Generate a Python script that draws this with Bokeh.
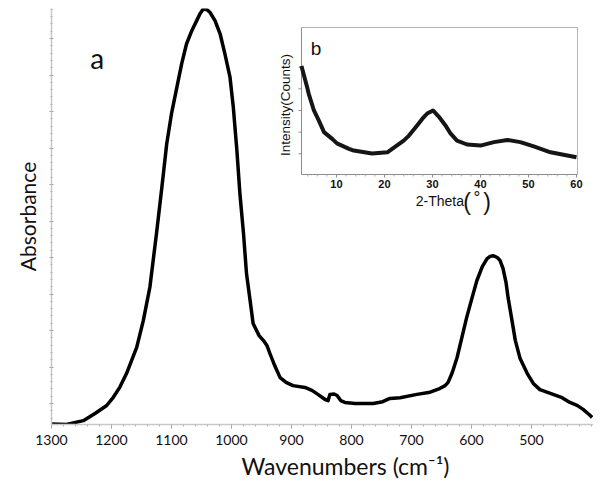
import math
from bokeh.plotting import figure
from bokeh.models import Range1d, FixedTicker, Label, Title
from bokeh.core.properties import value
from bokeh.embed import file_html
from bokeh.resources import INLINE

# ---- main FTIR spectrum (panel a) ----
wavenumber = [1300, 1275, 1247, 1227.5, 1208, 1197, 1186, 1175, 1158, 1147, 1136, 1125,
              1116, 1108, 1100, 1091, 1083, 1075, 1066, 1058, 1052.5, 1047, 1041, 1036,
              1027.5, 1019, 1011, 1002.5, 997, 991, 986, 980, 975, 969, 964, 954, 947,
              941, 936, 928, 919, 909, 897.5, 877.5, 866, 856, 844, 839, 836, 829, 824,
              818, 811, 794, 764, 748, 736, 719, 691, 669, 653, 644, 639, 632, 624, 616,
              608, 599, 591, 582, 574, 569, 564, 557, 552.5, 547.5, 542.5, 539, 532.5,
              527, 519, 507, 497, 486, 464, 449, 436, 424, 414, 404, 399]
absorbance = [0.044, 0.0425, 0.053, 0.0726, 0.0945, 0.117, 0.145, 0.182, 0.254, 0.327,
              0.419, 0.566, 0.693, 0.811, 0.894, 0.967, 1.031, 1.085, 1.122, 1.149, 1.168,
              1.181, 1.179, 1.172, 1.149, 1.113, 1.058, 0.994, 0.912, 0.793, 0.675, 0.566,
              0.456, 0.382, 0.319, 0.286, 0.273, 0.259, 0.237, 0.204, 0.171, 0.158, 0.149,
              0.144, 0.136, 0.125, 0.111, 0.108, 0.125, 0.126, 0.122, 0.108, 0.103, 0.100,
              0.100, 0.105, 0.114, 0.116, 0.125, 0.131, 0.141, 0.149, 0.158, 0.185, 0.226,
              0.281, 0.336, 0.390, 0.437, 0.475, 0.497, 0.503, 0.505, 0.500, 0.492, 0.470,
              0.432, 0.390, 0.327, 0.273, 0.223, 0.182, 0.155, 0.138, 0.125, 0.116, 0.103,
              0.095, 0.084, 0.070, 0.062]
x_ticks = [1300, 1200, 1100, 1000, 900, 800, 700, 600, 500]
x_tick_labels = ["1300", "1200", "1100", "1000", "900", "800", "700", "600", "500"]
y_ticks = [0.1, 0.2, 0.3, 0.4, 0.5, 0.6, 0.7, 0.8, 0.9, 1.0, 1.1]

# ---- XRD inset (panel b) ----
two_theta = [2.7, 3.9, 4.2, 5.3, 6.3, 7.4, 9.1, 10.1, 12.6, 13.6, 17.4, 20.6, 21.6, 24.0,
             25.1, 26.8, 27.9, 28.9, 30.1, 31.3, 32.7, 33.75, 35.1, 37.2, 40.0, 42.8,
             45.6, 48.3, 51.1, 54.6, 58.1, 60.0]
intensity = [5.05, 4.06, 3.78, 3.0, 2.54, 2.0, 1.69, 1.48, 1.23, 1.15, 1.01, 1.07, 1.23,
             1.61, 1.84, 2.31, 2.62, 2.86, 3.0, 2.72, 2.31, 1.94, 1.61, 1.43, 1.38, 1.54,
             1.64, 1.54, 1.34, 1.07, 0.92, 0.84]
inset_x_ticks = [10, 20, 30, 40, 50, 60]
inset_x_tick_labels = ["10", "20", "30", "40", "50", "60"]
inset_y_ticks = [1, 2, 3, 4, 5]

FONT = "Lato"
IFONT = "Liberation Sans"

# layout (picture pixels)
FRAME = dict(left=51, right=593, top=8, bottom=424)
INSET = dict(left=301, right=577, top=27, bottom=174)
IX = (2.71, 60.21)      # inset x limits (2-theta)
IY = (0.045, 6.83)      # inset y limits (intensity)

p = figure(frame_width=FRAME["right"] - FRAME["left"], frame_height=FRAME["bottom"] - FRAME["top"],
           x_range=Range1d(1300, 396.67), y_range=Range1d(0.0425, 1.1822),
           output_backend="svg", toolbar_location=None,
           min_border_left=FRAME["left"], min_border_right=0, min_border_top=FRAME["top"],
           min_border_bottom=58)
p.outline_line_color = None
p.xgrid.visible = False
p.ygrid.visible = False

x_minor = [x_ticks[0] - 20 * k for k in range(46)]
p.xaxis.ticker = FixedTicker(ticks=x_ticks, minor_ticks=x_minor)
p.xaxis.major_label_overrides = dict(zip(x_ticks, x_tick_labels))
p.xaxis.axis_line_color = "#c8c8c8"
p.xaxis.axis_line_width = 1.5
p.xaxis.major_tick_line_color = "#9a9a9a"
p.xaxis.minor_tick_line_color = "#b5b5b5"
p.xaxis.major_tick_in = 0
p.xaxis.major_tick_out = 4
p.xaxis.minor_tick_in = 0
p.xaxis.minor_tick_out = 2
p.xaxis.major_label_text_font = FONT
p.xaxis.major_label_text_font_size = "14px"
p.xaxis.major_label_text_color = "#111111"
p.xaxis.major_label_standoff = 6

y_minor = [round(0.04 + 0.02 * k, 3) for k in range(58)]
p.yaxis.ticker = FixedTicker(ticks=y_ticks, minor_ticks=y_minor)
p.yaxis.major_label_overrides = {t: "" for t in y_ticks}
p.yaxis.axis_line_color = "#c8c8c8"
p.yaxis.axis_line_width = 1.5
p.yaxis.major_tick_line_color = "#9a9a9a"
p.yaxis.minor_tick_line_color = "#b5b5b5"
p.yaxis.major_tick_in = 2
p.yaxis.major_tick_out = 2
p.yaxis.minor_tick_in = 1
p.yaxis.minor_tick_out = 1
p.yaxis.major_label_standoff = 0
p.yaxis.axis_label = "Absorbance"
p.yaxis.axis_label_text_font = FONT
p.yaxis.axis_label_text_font_size = "21px"
p.yaxis.axis_label_text_font_style = "normal"
p.yaxis.axis_label_text_color = "#111111"
p.yaxis.axis_label_standoff = 10

p.add_layout(Title(text="Wavenumbers (cm\u207b\u00b9)", align="left", offset=190,
                   text_font=FONT, text_font_size="23px", text_font_style="normal",
                   text_color="#111111", standoff=4), "below")

p.line(wavenumber, absorbance, line_width=3.5, color="black", line_join="round")
p.add_layout(Label(x=1224, y=1.046, text="a", text_font=FONT, text_font_size="28px",
                   text_align="center", text_baseline="alphabetic", text_color="#111111"))

# ---- inset drawn with its own ranges mapped onto the inset box ----
dx = (IX[1] - IX[0]) / (INSET["right"] - INSET["left"])   # units per px
dy = (IY[1] - IY[0]) / (INSET["bottom"] - INSET["top"])
p.extra_x_ranges = {"ix": Range1d(IX[0] - (INSET["left"] - FRAME["left"]) * dx,
                                  IX[1] + (FRAME["right"] - INSET["right"]) * dx)}
p.extra_y_ranges = {"iy": Range1d(IY[0] - (FRAME["bottom"] - INSET["bottom"]) * dy,
                                  IY[1] + (INSET["top"] - FRAME["top"]) * dy)}
R = dict(x_range_name="ix", y_range_name="iy")

def px_x(px):  # picture x -> inset data x
    return IX[0] + (px - INSET["left"]) * dx

def px_y(py):  # picture y -> inset data y
    return IY[0] + (INSET["bottom"] - py) * dy

p.quad(left=[IX[0]], right=[IX[1]], bottom=[IY[0]], top=[IY[1]], fill_color="white",
       line_color=None, **R)
# frame: light top/right, darker axes
p.segment(x0=[IX[0], IX[1]], y0=[IY[1], IY[0]], x1=[IX[1], IX[1]], y1=[IY[1], IY[1]],
          line_color="#b4b4b4", line_width=1, **R)
p.segment(x0=[IX[0], IX[0]], y0=[IY[0], IY[0]], x1=[IX[1], IX[0]], y1=[IY[0], IY[1]],
          line_color="#8c8c8c", line_width=1, **R)
# x ticks
inset_minor = [m for m in range(4, 61, 2) if m not in inset_x_ticks]
p.segment(x0=inset_x_ticks, y0=[IY[0]] * len(inset_x_ticks), x1=inset_x_ticks,
          y1=[IY[0] - 3 * dy] * len(inset_x_ticks), line_color="#8c8c8c", **R)
p.segment(x0=inset_minor, y0=[IY[0]] * len(inset_minor), x1=inset_minor,
          y1=[IY[0] - 2 * dy] * len(inset_minor), line_color="#a8a8a8", **R)
# y ticks
p.segment(x0=[IX[0]] * len(inset_y_ticks), y0=inset_y_ticks,
          x1=[IX[0] - 3 * dx] * len(inset_y_ticks), y1=inset_y_ticks, line_color="#8c8c8c", **R)
# tick labels
p.text(x=inset_x_ticks, y=[px_y(183)] * len(inset_x_ticks), text=inset_x_tick_labels,
       text_font=value(IFONT), text_font_style="bold", text_font_size="11px",
       text_align="center", text_baseline="middle", text_color="#111111", **R)
# axis labels
p.text(x=[px_x(463.5)], y=[px_y(200)], text=["2-Theta"], text_font=value(IFONT),
       text_font_size="14px", text_align="right", text_baseline="middle",
       text_color="#111111", **R)
p.text(x=[px_x(466.5), px_x(486.5)], y=[px_y(201.5), px_y(201.5)], text=["(", ")"],
       text_font=value(IFONT), text_font_size="23px", text_align="center",
       text_baseline="middle", text_color="#111111", **R)
p.text(x=[px_x(476.5)], y=[px_y(197)], text=["\u00b0"], text_font=value(IFONT),
       text_font_size="17px", text_align="center", text_baseline="middle",
       text_color="#111111", **R)
p.text(x=[px_x(285)], y=[px_y(104.5)], text=["Intensity(Counts)"], text_font=value(IFONT),
       text_font_size="13.5px", text_align="center", text_baseline="middle",
       angle=math.pi / 2, text_color="#111111", **R)
p.line(two_theta, intensity, line_width=4, color="#151515", line_join="round", **R)
p.text(x=[px_x(315.5)], y=[px_y(48)], text=["b"], text_font=value(IFONT),
       text_font_size="19px", text_align="center", text_baseline="alphabetic",
       text_color="#111111", **R)

open("out.html", "w").write(file_html(p, INLINE))
